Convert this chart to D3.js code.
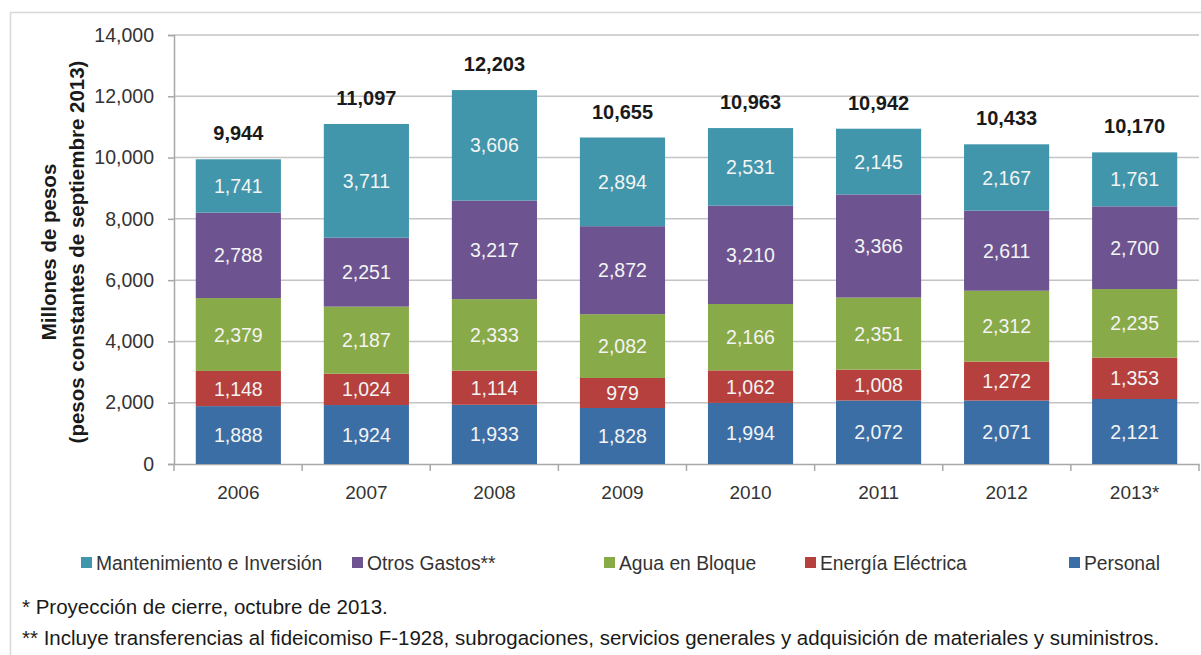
<!DOCTYPE html>
<html><head><meta charset="utf-8">
<script src="https://cdn.jsdelivr.net/npm/d3@7"></script>
<style>
html,body{margin:0;padding:0;background:#fff;}
svg text{font-family:"Liberation Sans",Arial,sans-serif;}
</style></head><body>
<svg id="chart" width="1201" height="655"></svg>
<script>
const years = ["2006","2007","2008","2009","2010","2011","2012","2013*"];
const personal = [1888,1924,1933,1828,1994,2072,2071,2121];
const energia = [1148,1024,1114,979,1062,1008,1272,1353];
const agua = [2379,2187,2333,2082,2166,2351,2312,2235];
const otros = [2788,2251,3217,2872,3210,3366,2611,2700];
const mant = [1741,3711,3606,2894,2531,2145,2167,1761];
const totals = [9944,11097,12203,10655,10963,10942,10433,10170];
const seriesNames = ["Personal","Energía Eléctrica","Agua en Bloque","Otros Gastos**","Mantenimiento e Inversión"];
const seriesColors = ["#3c6ea6","#b5403d","#89aa48","#6d5490","#4196ab"];
const yTicks = [0,2000,4000,6000,8000,10000,12000,14000];
const legendOrder = ["Mantenimiento e Inversión","Otros Gastos**","Agua en Bloque","Energía Eléctrica","Personal"];
const footnotes = ["* Proyección de cierre, octubre de 2013.",
 "** Incluye transferencias al fideicomiso F-1928, subrogaciones, servicios generales y adquisición de materiales y suministros."];

const seriesVals = [personal,energia,agua,otros,mant];
const rows = years.map((y,i)=>{const o={year:y}; seriesNames.forEach((s,k)=>o[s]=seriesVals[k][i]); return o;});
const stack = d3.stack().keys(seriesNames)(rows);

const svg = d3.select("#chart");
// outer border
svg.append("rect").attr("x",10.5).attr("y",12.5).attr("width",1220).attr("height",700)
  .attr("fill","none").attr("stroke","#d8d8d8").attr("stroke-width",1.5);

const m = {left:174, right:1199, top:35, bottom:464};
const x = d3.scaleBand().domain(years).range([m.left,m.right]).paddingInner(0.335).paddingOuter(0.17);
const y = d3.scaleLinear().domain([0,14000]).range([m.bottom,m.top]);
const fmt = d3.format(",");

// gridlines
svg.append("g").selectAll("line").data(yTicks.filter(d=>d>0)).join("line")
  .attr("x1",m.left).attr("x2",m.right).attr("y1",d=>y(d)).attr("y2",d=>y(d))
  .attr("stroke","#c4c4c4").attr("stroke-width",1.5);

// y axis
const yAxis = svg.append("g").attr("transform",`translate(${m.left},0)`)
  .call(d3.axisLeft(y).tickValues(yTicks).tickFormat(fmt).tickSize(6).tickPadding(14));
yAxis.select(".domain").attr("stroke","#a8a8a8").attr("stroke-width",1.5);
yAxis.selectAll(".tick line").attr("stroke","#a8a8a8").attr("stroke-width",1.5);
yAxis.selectAll("text").attr("font-size",19.5).attr("fill","#333");

// x axis
const xAxis = svg.append("g").attr("transform",`translate(0,${m.bottom})`)
  .call(d3.axisBottom(x).tickSize(0).tickPadding(22));
xAxis.select(".domain").attr("stroke","#a8a8a8").attr("stroke-width",1.5);
xAxis.selectAll("text").attr("font-size",19).attr("fill","#333");
const bounds = d3.range(years.length+1).map(i=>m.left + i*(m.right-m.left)/years.length);
svg.append("g").selectAll("line").data(bounds).join("line")
  .attr("x1",d=>d).attr("x2",d=>d).attr("y1",m.bottom).attr("y2",m.bottom+7)
  .attr("stroke","#a8a8a8").attr("stroke-width",1.5);

// bars
const layers = svg.append("g").selectAll("g").data(stack).join("g")
  .attr("fill",(d,i)=>seriesColors[i]);
layers.selectAll("rect").data(d=>d).join("rect")
  .attr("x",d=>x(d.data.year)).attr("width",x.bandwidth())
  .attr("y",d=>y(d[1])).attr("height",d=>y(d[0])-y(d[1]));

// segment labels
const labG = svg.append("g");
stack.forEach((layer,k)=>{
  labG.selectAll(null).data(layer).join("text")
    .attr("x",d=>x(d.data.year)+x.bandwidth()/2)
    .attr("y",d=>(y(d[0])+y(d[1]))/2)
    .attr("dy","0.36em").attr("text-anchor","middle")
    .attr("font-size",19.5).attr("fill","#f4f4f4")
    .text(d=>fmt(d[1]-d[0]));
});
// totals
svg.append("g").selectAll("text").data(years).join("text")
  .attr("x",d=>x(d)+x.bandwidth()/2)
  .attr("y",(d,i)=>y(totals[i])-19)
  .attr("text-anchor","middle").attr("font-size",20).attr("font-weight","bold").attr("fill","#1a1a1a")
  .text((d,i)=>fmt(totals[i]));

// y title
const yt = svg.append("text").attr("transform","translate(56,252) rotate(-90)")
  .attr("text-anchor","middle").attr("font-size",20.5).attr("font-weight","bold").attr("fill","#1a1a1a");
yt.append("tspan").attr("x",0).attr("dy",0).text("Millones de pesos");
yt.append("tspan").attr("x",0).attr("dy",28).text("(pesos constantes de septiembre 2013)");

// legend
const legX = [81,352,604,805,1069];
const lg = svg.append("g").selectAll("g").data(legendOrder).join("g")
  .attr("transform",(d,i)=>`translate(${legX[i]},563)`);
lg.append("rect").attr("x",0).attr("y",-6).attr("width",11).attr("height",11)
  .attr("fill",d=>seriesColors[seriesNames.indexOf(d)]);
lg.append("text").attr("x",15).attr("y",0).attr("dy","0.35em").attr("font-size",19.3).attr("fill","#333").text(d=>d);

// footnotes
svg.append("g").selectAll("text").data(footnotes).join("text")
  .attr("x",22).attr("y",(d,i)=>614+i*31).attr("font-size",20.5).attr("fill","#1a1a1a").text(d=>d);
</script>
</body></html>
